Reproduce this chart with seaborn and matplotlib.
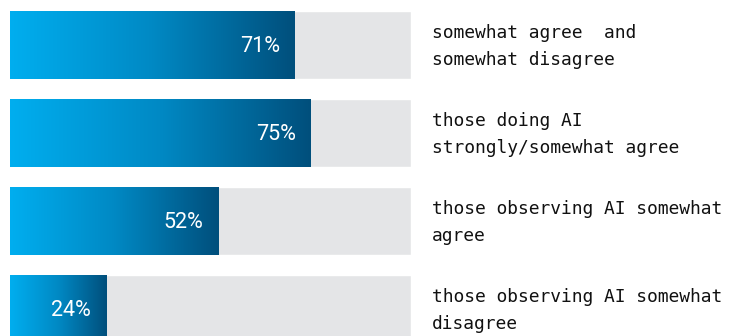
import numpy as np
import pandas as pd
import matplotlib
matplotlib.use("Agg")
import matplotlib.pyplot as plt
from matplotlib.colors import LinearSegmentedColormap
import seaborn as sns

categories = ["somewhat agree  and\nsomewhat disagree",
              "those doing AI\nstrongly/somewhat agree",
              "those observing AI somewhat\nagree",
              "those observing AI somewhat\ndisagree"]
values = [71, 75, 52, 24]
totals = [100, 100, 100, 100]
value_labels = ["71%", "75%", "52%", "24%"]

df = pd.DataFrame({"cat": categories, "value": values, "total": totals})

sns.set_theme(style="white")
W, H = 736, 336
fig = plt.figure(figsize=(W / 100, H / 100), dpi=100)
ax = fig.add_axes([10 / W, 0, 401 / W, 1])

bar_h = 68 / 88
sns.barplot(data=df, x="total", y="cat", orient="h", color="#e4e5e7",
            width=bar_h, ax=ax, saturation=1)
n_bg = len(ax.patches)
sns.barplot(data=df, x="value", y="cat", orient="h", color="#0079ad",
            width=bar_h, ax=ax, saturation=1)

cmap = LinearSegmentedColormap.from_list("g", ["#00aeef", "#0089c4", "#004f7c"])
grad = np.linspace(0, 1, 256).reshape(1, -1)
for p in ax.patches[n_bg:]:
    x0, y0 = p.get_x(), p.get_y()
    w, h = p.get_width(), p.get_height()
    p.set_facecolor("none")
    p.set_edgecolor("none")
    im = ax.imshow(grad, cmap=cmap, aspect="auto",
                   extent=[x0, x0 + w, y0 + h, y0], zorder=3,
                   interpolation="bilinear")
    im.set_clip_path(p)

ax.set_xlim(0, 100)
ax.set_ylim(3 + 27 / 88, -45 / 88)

for i, (v, lab, cat) in enumerate(zip(values, value_labels, categories)):
    ax.text(v - 15 / 4.01, i + 0.02, lab, ha="right", va="center",
            color="white", fontsize=15.5, family="Roboto", zorder=5)
    ax.text((432 - 10) / 4.01, i + 0.02, cat, ha="left", va="center",
            color="#111111", fontsize=12.9, family="DejaVu Sans Mono",
            linespacing=1.62, clip_on=False)

ax.set_xlabel("")
ax.set_ylabel("")
ax.set_xticks([])
ax.set_yticks([])
for s in ax.spines.values():
    s.set_visible(False)

fig.savefig("out.png", dpi=100, facecolor="white")
